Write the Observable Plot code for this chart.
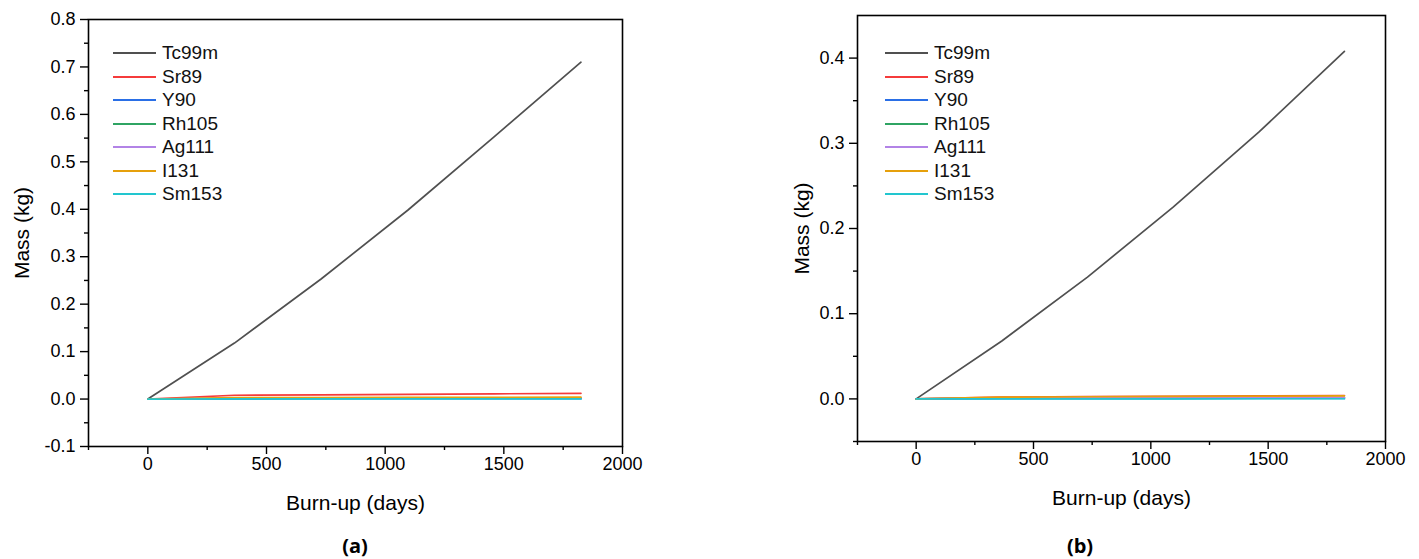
<!DOCTYPE html>
<html><head><meta charset="utf-8">
<script src="https://cdn.jsdelivr.net/npm/d3@7"></script>
<script src="https://cdn.jsdelivr.net/npm/@observablehq/plot@0.6"></script>
<style>
body{margin:0;background:#fff;}
#root{position:relative;width:1419px;height:559px;font-family:"Liberation Sans",Arial,sans-serif;overflow:hidden;}
.panel{position:absolute;top:0;}
.legend{position:absolute;top:0;font-size:19px;color:#111;font-family:"Liberation Sans",Arial,sans-serif;}
.legend .row{position:absolute;left:0;display:flex;align-items:center;height:24px;white-space:nowrap;}
.legend .sw{width:43px;height:0;border-top:2px solid;margin-right:6px;}
.caption{position:absolute;font-family:"Open Sans","Noto Sans",sans-serif;font-weight:bold;font-size:20px;transform:translate(-50%,-50%);}
</style>
</head><body>
<div id="root"></div>
<script>
// ---- data ----
const days = [0, 365, 730, 1095, 1460, 1825];
const isotopes = ["Tc99m", "Sr89", "Y90", "Rh105", "Ag111", "I131", "Sm153"];
const colors = ["#505050", "#f53b3b", "#2a6fe6", "#2fa463", "#b283e6", "#e6a00c", "#22c6cf"];

// panel (a)
const a_Tc99m = [0, 0.118, 0.253, 0.398, 0.553, 0.710];
const a_Sr89  = [0, 0.008, 0.009, 0.010, 0.011, 0.012];
const a_Y90   = [0, 0.0005, 0.0006, 0.0006, 0.0007, 0.0007];
const a_Rh105 = [0, 0.0015, 0.0016, 0.0017, 0.0018, 0.0019];
const a_Ag111 = [0, 0.0020, 0.0021, 0.0022, 0.0023, 0.0024];
const a_I131  = [0, 0.0030, 0.0033, 0.0035, 0.0037, 0.0040];
const a_Sm153 = [0, 0.0002, 0.0002, 0.0002, 0.0003, 0.0003];

// panel (b)
const b_Tc99m = [0, 0.068, 0.143, 0.225, 0.313, 0.408];
const b_Sr89  = [0, 0.0020, 0.0026, 0.0030, 0.0035, 0.0040];
const b_Y90   = [0, 0.0003, 0.0004, 0.0004, 0.0005, 0.0005];
const b_Rh105 = [0, 0.0010, 0.0012, 0.0013, 0.0014, 0.0015];
const b_Ag111 = [0, 0.0012, 0.0013, 0.0014, 0.0015, 0.0016];
const b_I131  = [0, 0.0020, 0.0025, 0.0030, 0.0033, 0.0036];
const b_Sm153 = [0, 0.0001, 0.0001, 0.0001, 0.0002, 0.0002];

const xMajor = [0, 500, 1000, 1500, 2000];
const xMinor = [-250, 250, 750, 1250, 1750];
const yMajorA = [-0.1, 0, 0.1, 0.2, 0.3, 0.4, 0.5, 0.6, 0.7, 0.8];
const yMinorA = [-0.05, 0.05, 0.15, 0.25, 0.35, 0.45, 0.55, 0.65, 0.75];
const yMajorB = [0, 0.1, 0.2, 0.3, 0.4];
const yMinorB = [-0.05, 0.05, 0.15, 0.25, 0.35];

const xLabel = "Burn-up (days)";
const yLabel = "Mass (kg)";

function rows(series) {
  const out = [];
  isotopes.forEach((iso, k) => {
    series[k].forEach((m, i) => out.push({isotope: iso, day: days[i], mass: m}));
  });
  return out;
}
const dataA = rows([a_Tc99m, a_Sr89, a_Y90, a_Rh105, a_Ag111, a_I131, a_Sm153]);
const dataB = rows([b_Tc99m, b_Sr89, b_Y90, b_Rh105, b_Ag111, b_I131, b_Sm153]);

function panel(cfg) {
  return Plot.plot({
    width: cfg.width, height: 530,
    marginLeft: cfg.ml, marginRight: cfg.mr, marginTop: cfg.mt, marginBottom: cfg.mb,
    style: {fontFamily: '"Liberation Sans", Arial, sans-serif', fontSize: "18px", color: "#000", background: "transparent"},
    x: {domain: [-250, 2000]},
    y: {domain: cfg.yDomain},
    color: {domain: isotopes, range: colors},
    marks: [
      Plot.line(cfg.data, {x: "day", y: "mass", stroke: "isotope", z: "isotope", strokeWidth: 1.7}),
      Plot.frame({stroke: "#000", strokeWidth: 1.6}),
      Plot.axisX({ticks: xMajor, tickSize: 8, tickPadding: 3, strokeWidth: 1.4, fontSize: 18, tickFormat: d => String(d), label: null}),
      Plot.axisX({ticks: xMinor, tickSize: 4, strokeWidth: 1.4, tickFormat: () => "", label: null}),
      Plot.axisY({ticks: cfg.yMajor, tickSize: 8, tickPadding: 5, strokeWidth: 1.4, fontSize: 18, tickFormat: d => d.toFixed(1), label: null}),
      Plot.axisY({ticks: cfg.yMinor, tickSize: 4, strokeWidth: 1.4, tickFormat: () => "", label: null}),
      Plot.text([xLabel], {frameAnchor: "bottom", dy: 57, fontSize: 21, textAnchor: "middle", lineAnchor: "middle", fill: "#000"}),
      Plot.text([yLabel], {frameAnchor: "left", dx: cfg.ydx, rotate: -90, fontSize: 21, textAnchor: "middle", lineAnchor: "middle", fill: "#000"})
    ]
  });
}

const root = document.getElementById("root");

function place(el, left) {
  el.classList.add("panel");
  el.style.left = left + "px";
  root.appendChild(el);
}

const pa = panel({width: 710, ml: 88, mr: 88, mt: 19, mb: 84, yDomain: [-0.1, 0.8], yMajor: yMajorA, yMinor: yMinorA, data: dataA, ydx: -66});
place(pa, 0);
const pb = panel({width: 709, ml: 147, mr: 34, mt: 15, mb: 89, yDomain: [-0.05, 0.45], yMajor: yMajorB, yMinor: yMinorB, data: dataB, ydx: -55});
place(pb, 710);

function legend(left) {
  const lg = document.createElement("div");
  lg.className = "legend";
  lg.style.left = left + "px";
  isotopes.forEach((iso, i) => {
    const r = document.createElement("div");
    r.className = "row";
    r.style.top = (41 + i * 23.5) + "px";
    const sw = document.createElement("span");
    sw.className = "sw";
    sw.style.borderTopColor = colors[i];
    const t = document.createElement("span");
    t.textContent = iso;
    r.appendChild(sw); r.appendChild(t);
    lg.appendChild(r);
  });
  root.appendChild(lg);
}
legend(113);
legend(885);

function caption(text, x, y) {
  const c = document.createElement("div");
  c.className = "caption";
  c.textContent = text;
  c.style.left = x + "px";
  c.style.top = y + "px";
  root.appendChild(c);
}
caption("(a)", 355, 545);
caption("(b)", 1080, 545);
</script>
</body></html>
